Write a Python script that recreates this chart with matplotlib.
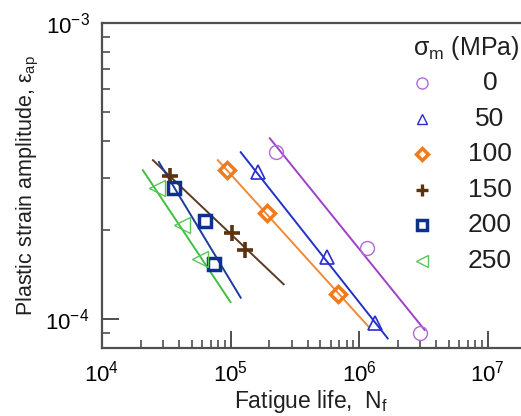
import numpy as np
import matplotlib
matplotlib.use("Agg")
import matplotlib.pyplot as plt

plt.rcParams['font.family'] = ['Liberation Sans', 'DejaVu Sans']
plt.rcParams['mathtext.fontset'] = 'custom'
plt.rcParams['mathtext.rm'] = 'Liberation Sans'
plt.rcParams['mathtext.it'] = 'Liberation Sans:italic'
plt.rcParams['mathtext.default'] = 'regular'

# mean stress levels (MPa)
stress = ["0", "50", "100", "150", "200", "250"]

# measured points: fatigue life, plastic strain amplitude
life_pts = [
    [2.25e5, 1.15e6, 2.96e6],
    [1.63e5, 5.6e5, 1.32e6],
    [9.4e4, 1.91e5, 6.8e5],
    [3.37e4, 1.02e5, 1.29e5],
    [3.62e4, 6.3e4, 7.4e4],
    [2.67e4, 4.2e4, 5.8e4],
]
strain_pts = [
    [3.66e-4, 1.74e-4, 8.97e-5],
    [3.14e-4, 1.62e-4, 9.7e-5],
    [3.18e-4, 2.28e-4, 1.21e-4],
    [3.04e-4, 1.95e-4, 1.71e-4],
    [2.77e-4, 2.14e-4, 1.53e-4],
    [2.77e-4, 2.08e-4, 1.60e-4],
]

# fitted lines (start, end)
life_fit = [
    [2.02e5, 3.24e6],
    [1.20e5, 1.67e6],
    [7.97e4, 1.19e6],
    [2.49e4, 2.59e5],
    [2.77e4, 1.20e5],
    [2.08e4, 1.00e5],
]
strain_fit = [
    [4.08e-4, 9.18e-5],
    [3.66e-4, 8.6e-5],
    [3.44e-4, 9.4e-5],
    [3.44e-4, 1.31e-4],
    [3.39e-4, 1.18e-4],
    [3.18e-4, 1.14e-4],
]

marker_col = ["#b36ad6", "#2b2bd0", "#f07a1e", "#5c3210", "#0d2f8f", "#5cc45c"]
line_col = ["#a040c8", "#2232c8", "#f08a3a", "#5a3a22", "#1c3c9c", "#40c040"]
markers = ["o", "^", "D", "+", "s", "<"]
msize = [10, 10, 8, 12, 9, 11]
mew = [1.0, 1.2, 2.5, 2.6, 2.5, 1.0]
msize_leg = [8, 7, 6, 9, 7, 9]
mew_leg = [1.0, 1.0, 2.5, 2.4, 2.5, 1.0]

fig = plt.figure(figsize=(5.21, 4.16), dpi=100)
ax = fig.add_axes([0.1958, 0.1635, 0.8042, 0.7812])

for i in range(len(stress)):
    ax.plot(life_fit[i], strain_fit[i], color=line_col[i], lw=1.4, zorder=2)
    ax.plot(life_pts[i], strain_pts[i], linestyle='none', marker=markers[i],
            ms=msize[i], mfc='none', mec=marker_col[i], mew=mew[i], zorder=3)

ax.set_xscale('log')
ax.set_yscale('log')
ax.set_xlim(1e4, 1.82e7)
ax.set_ylim(7.98e-5, 1e-3)

ax.spines['right'].set_visible(False)
for s in ['left', 'top', 'bottom']:
    ax.spines[s].set_linewidth(1.6)
    ax.spines[s].set_color('#505050')

ax.tick_params(which='both', direction='in', top=False, right=False,
               color='#404040', labelsize=16, pad=9)
ax.tick_params(which='major', length=12, width=1.3)
ax.tick_params(which='minor', length=6, width=1.1)
ax.set_xticks([1e4, 1e5, 1e6, 1e7])
ax.set_xticklabels(["$10^{4}$", "$10^{5}$", "$10^{6}$", "$10^{7}$"])
ax.set_yticks([1e-4, 1e-3])
ax.set_yticklabels(["$10^{-4}$", "$10^{-3}$"])
ax.yaxis.set_minor_formatter(matplotlib.ticker.NullFormatter())
ax.xaxis.set_minor_formatter(matplotlib.ticker.NullFormatter())

ax.set_xlabel("Fatigue life,  N$_\\mathrm{f}$", fontsize=16.5, color='#202020', labelpad=1)
ax.set_ylabel("Plastic strain amplitude, ε$_\\mathrm{ap}$", fontsize=15.5,
              color='#202020', labelpad=3)

# legend drawn by hand in axes coordinates
ax.text(0.742, 0.923, "σ$_\\mathrm{m}$ (MPa)", transform=ax.transAxes,
        fontsize=18, ha='left', va='center', color='#202020')
for i in range(len(stress)):
    yy = 0.815 - i * 0.1095
    ax.plot([0.764], [yy], linestyle='none', marker=markers[i], ms=msize_leg[i],
            mfc='none', mec=marker_col[i], mew=mew_leg[i],
            transform=ax.transAxes, clip_on=False)
    ax.text(0.926, yy, stress[i], transform=ax.transAxes, fontsize=19,
            ha='center', va='center', color='#202020')

fig.savefig("out.png", dpi=100)
